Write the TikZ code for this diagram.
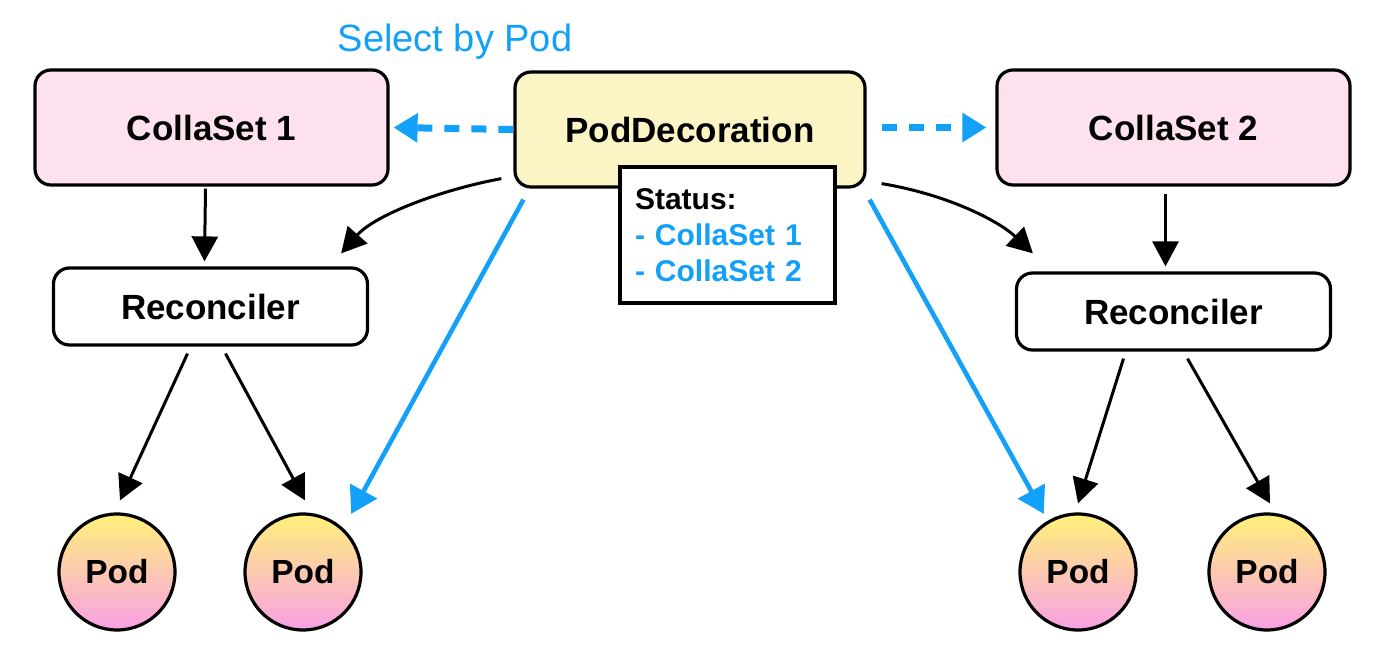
\documentclass[tikz,border=0pt]{standalone}
\usepackage{fontspec}
\setmainfont{Liberation Sans}
\usetikzlibrary{arrows.meta,calc}
\definecolor{sblue}{HTML}{12A0F8}
\definecolor{pinkfill}{HTML}{FDE1EF}
\definecolor{yellowfill}{HTML}{FBF5C5}
\definecolor{podtop}{HTML}{FFF17A}
\definecolor{podbot}{HTML}{F8A0E6}
\tikzset{
  box/.style={draw=black, line width=1.6pt, rounded corners=8pt, inner sep=0pt,
    font=\fontsize{17.5}{20}\selectfont\bfseries},
  setbox/.style={box, fill=pinkfill, minimum width=176.5pt, minimum height=57.5pt},
  recbox/.style={box, fill=white, minimum width=157pt, minimum height=38.5pt},
  decobox/.style={box, fill=yellowfill, minimum width=175pt, minimum height=57.5pt},
  statbox/.style={draw=black, line width=1.6pt, fill=white, inner xsep=7.5pt, inner ysep=0pt,
    text width=92.5pt, minimum height=68pt, align=left,
    font=\fontsize{15}{18}\selectfont\bfseries},
  pod/.style={circle, draw=black, line width=1.6pt, top color=podtop, bottom color=podbot,
    minimum size=58pt, inner sep=0pt, font=\fontsize{16.7}{20}\selectfont\bfseries},
  blk/.style={draw=black, line width=1.5pt, -{Triangle[length=12.5pt,width=13pt]}},
  bluesolid/.style={draw=sblue, line width=2.3pt, -{Triangle[length=13pt,width=15pt]}},
  bluedash/.style={draw=sblue, line width=3.5pt, dash pattern=on 7.5pt off 6pt,
    -{Triangle[length=12pt,width=14pt]}},
}
\begin{document}
\begin{tikzpicture}[x=0.5pt,y=-0.5pt]
\useasboundingbox (0,0) rectangle (1386,652);

\node[text=sblue, font=\fontsize{19}{22}\selectfont] (sel) at (455,42) {Select by Pod};

\node[setbox] (cs1) at (211.5,127.5) {CollaSet 1};
\node[decobox] (pd) at (690,129.5) {PodDecoration};
\node[setbox] (cs2) at (1173.5,127.5) {CollaSet 2};

\node[statbox] (st) at (727.5,235) {Status:\\\textcolor{sblue}{- CollaSet 1}\\\textcolor{sblue}{- CollaSet 2}};

\node[recbox] (recL) at (210.5,306.5) {Reconciler};
\node[recbox] (recR) at (1173.5,311.5) {Reconciler};

\node[pod] (podA) at (117,572) {Pod};
\node[pod] (podB) at (303,572) {Pod};
\node[pod] (podC) at (1078,572) {Pod};
\node[pod] (podD) at (1267,572) {Pod};

% dashed blue
\draw[bluedash] (pd.west) -- ($(cs1.east)+(4,0)$);
\draw[bluedash] ($(pd.east)+(15,-2)$) -- ($(cs2.west)+(-9,0)$);

% CollaSet to Reconciler
\draw[blk] ($(cs1.south)+(-6,2)$) -- ($(recL.north)+(-6,-5)$);
\draw[blk] ($(cs2.south)+(-8,7)$) -- ($(recR.north)+(-8,-5)$);

% curved from PodDecoration
\draw[blk] ($(pd.south west)+(-12,-10)$) .. controls (440,190) and (375,215) .. ($(recL.north east)+(-28,-13)$);
\draw[blk] ($(pd.south east)+(15,-5)$) .. controls (950,195) and (1000,222) .. ($(recR.north west)+(18,-18)$);

% blue solid
\draw[bluesolid] ($(pd.south west)+(10,11)$) -- ($(podB.north east)+(6,-16)$);
\draw[bluesolid] ($(pd.south east)+(3,11)$) -- ($(podC.north west)+(8,-16)$);

% Reconciler to pods
\draw[blk] ($(recL.south)+(-23,7)$) -- ($(podA.north)+(3,-12)$);
\draw[blk] ($(recL.south)+(15,7)$) -- ($(podB.north)+(2,-12)$);
\draw[blk] ($(recR.south)+(-50,7)$) -- ($(podC.north)+(0,-9)$);
\draw[blk] ($(recR.south)+(14,7)$) -- ($(podD.north)+(3,-9)$);
\end{tikzpicture}
\end{document}
